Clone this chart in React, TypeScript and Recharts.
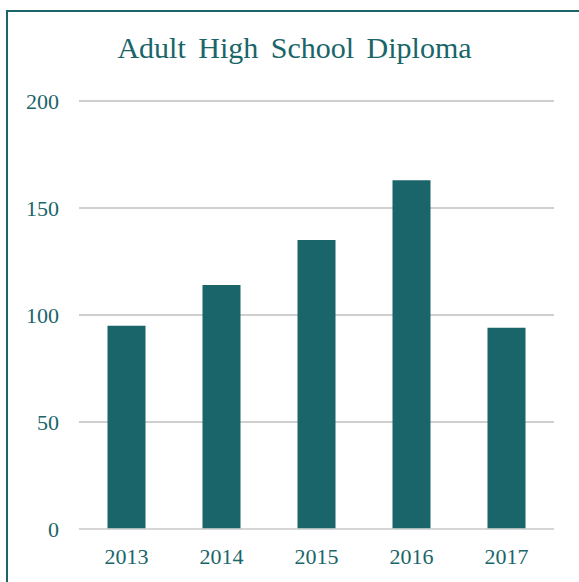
import { BarChart, Bar, XAxis, YAxis, CartesianGrid } from 'recharts';

const years = ['2013', '2014', '2015', '2016', '2017'];
const diplomas = [95, 114, 135, 163, 94];
const yTicks = [0, 50, 100, 150, 200];

const TEAL = '#1a6569';
const FONT = '"Liberation Serif", "Times New Roman", serif';

const chartData = years.map((year, i) => ({ year, value: diplomas[i] }));

export default function App() {
  return (
    <div style={{ position: 'fixed', left: 0, top: 0, width: 579, height: 582, overflow: 'hidden', background: '#fff' }}>
      {/* outer frame, runs off the right and bottom edge */}
      <div style={{ position: 'absolute', left: 6, top: 10, width: 600, height: 600, border: `2px solid ${TEAL}` }} />
      <div
        style={{
          position: 'absolute', left: 0, top: 30, width: 589, textAlign: 'center',
          fontFamily: FONT, fontSize: 30, color: TEAL, wordSpacing: 5, lineHeight: '36px',
        }}
      >
        Adult High School Diploma
      </div>
      <div style={{ position: 'absolute', left: 0, top: 0 }}>
        <BarChart
          width={579}
          height={582}
          data={chartData}
          margin={{ top: 101, right: 25, left: 0, bottom: 23 }}
          barCategoryGap="30%"
        >
          <CartesianGrid vertical={false} stroke="#bfbfbf" strokeWidth={1.5} />
          <XAxis
            dataKey="year"
            height={30}
            tickLine={false}
            tickSize={0}
            tickMargin={19}
            axisLine={{ stroke: '#d9d9d9', strokeWidth: 1.5 }}
            tick={{ fill: TEAL, fontSize: 22, fontFamily: FONT }}
          />
          <YAxis
            width={79}
            domain={[0, 200]}
            ticks={yTicks}
            axisLine={false}
            tickLine={false}
            tickSize={0}
            tickMargin={20}
            tick={{ fill: TEAL, fontSize: 22, fontFamily: FONT }}
          />
          <Bar dataKey="value" fill={TEAL} isAnimationActive={false} />
        </BarChart>
      </div>
    </div>
  );
}
